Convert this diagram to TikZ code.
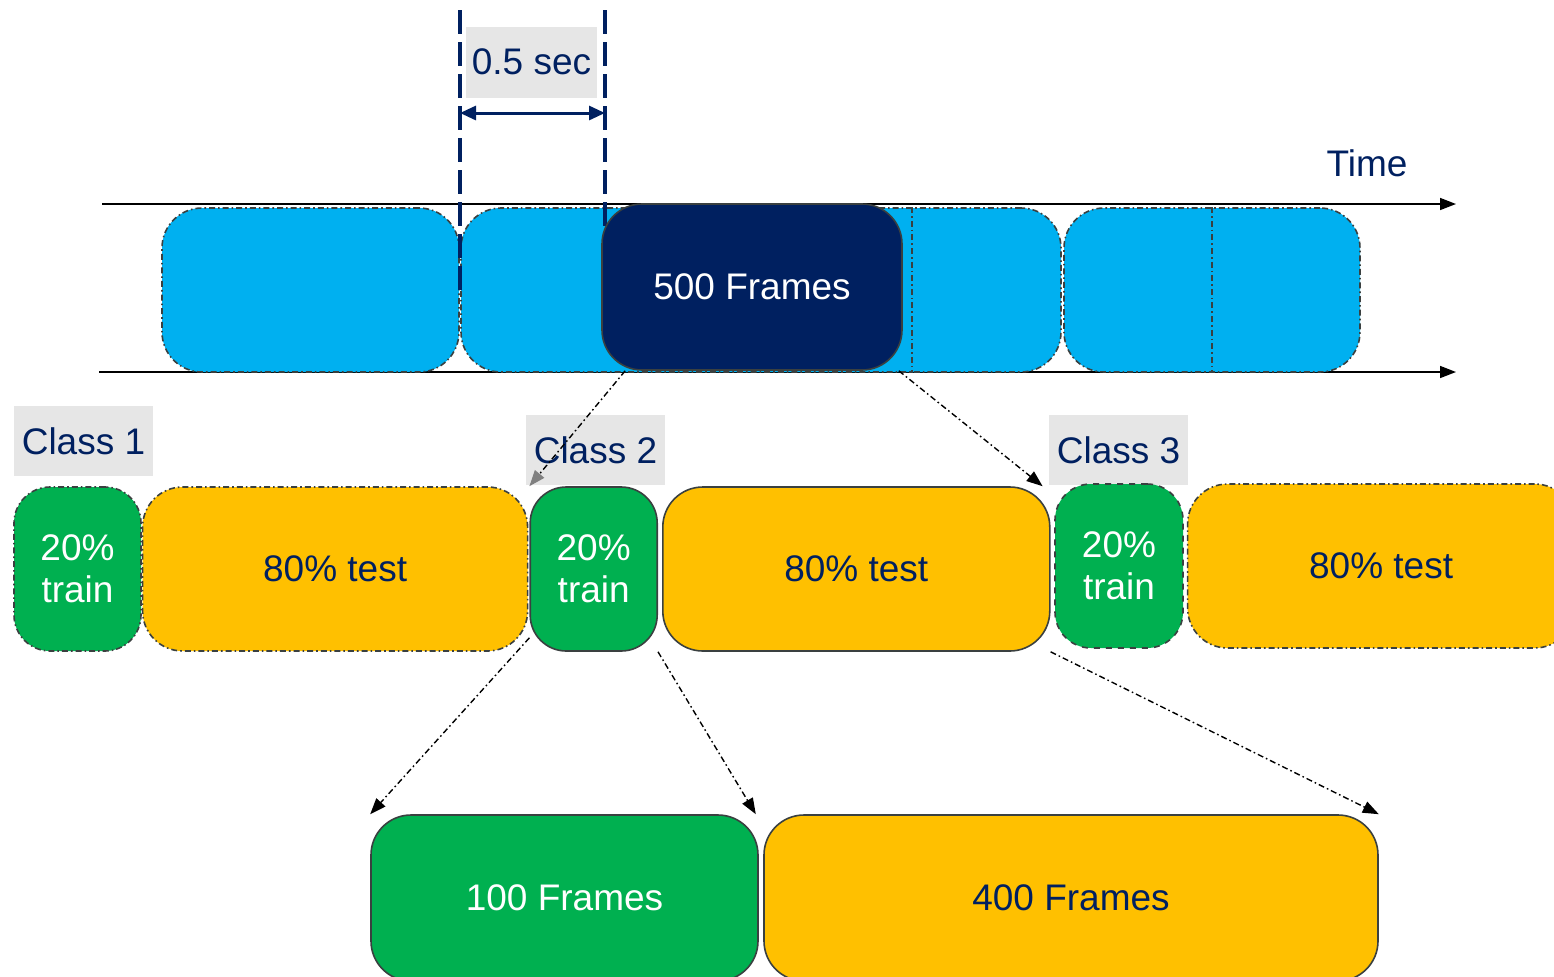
\documentclass[tikz,border=0pt]{standalone}
\usepackage{fontspec}
\setmainfont{Liberation Sans}
\usetikzlibrary{arrows.meta, positioning}
\definecolor{skyblue}{HTML}{00B0F0}
\definecolor{navy}{HTML}{002060}
\definecolor{trgreen}{HTML}{00B050}
\definecolor{tsyellow}{HTML}{FFC000}
\definecolor{tagbg}{HTML}{E6E6E6}
\definecolor{edge}{HTML}{3A4040}
\begin{document}
\begin{tikzpicture}[x=0.5pt, y=-0.5pt, font=\fontsize{18.5}{21}\selectfont,
  dd/.style={dash pattern=on 3pt off 1.5pt on 0.8pt off 1.5pt},
  blk/.style={rounded corners=20pt, minimum height=82pt, inner sep=0pt, align=center, line width=0.8pt, draw=edge},
  seg/.style={blk, fill=skyblue, dd},
  tr/.style={blk, fill=trgreen, text=white, minimum width=63.5pt, rounded corners=18pt},
  ts/.style={blk, fill=tsyellow, text=navy, minimum width=193.5pt},
  tag/.style={fill=tagbg, text=navy, inner sep=0pt, minimum width=69.5pt, minimum height=35pt},
  tick/.style={navy, line width=2pt, dash pattern=on 12pt off 4pt},
  lnk/.style={dd, line width=0.7pt, -{Triangle[length=8pt, width=6pt]}},
  node distance=1pt]
  \useasboundingbox (0,0) rectangle (1554,976);
  % time axis
  \coordinate (ta1) at (102,204); \coordinate (ta2) at (1456,204);
  \coordinate (tb1) at (99,372);  \coordinate (tb2) at (1456,372);
  \draw[line width=0.8pt, -{Triangle[length=8pt, width=6pt]}] (ta1) -- (ta2);
  \draw[line width=0.8pt, -{Triangle[length=8pt, width=6pt]}] (tb1) -- (tb2);
  \node[text=navy] (time) at (1367,163) {Time};
  % segments
  \node[seg, minimum width=148.5pt] (bA) at (310.5,290) {};
  \node[seg, minimum width=300pt] (bB) at (761,290) {};
  \node[seg, minimum width=148pt] (bC) at (1212,290) {};
  \draw[dd, line width=0.8pt, edge] ([xshift=226pt]bB.north west) -- ([xshift=226pt]bB.south west);
  \draw[dd, line width=0.8pt, edge] (bC.north) -- (bC.south);
  % window
  \coordinate (wl1) at (460,10); \coordinate (wl2) at (460,290);
  \coordinate (wr1) at (605,10); \coordinate (wr2) at (605,290);
  \draw[tick] (wl1) -- (wl2);
  \draw[tick] (wr1) -- (wr2);
  \node[tag, minimum width=65.5pt, minimum height=35.5pt] (win) at (531.5,62) {0.5 sec};
  \coordinate (wa1) at (460,113); \coordinate (wa2) at (605,113);
  \draw[navy, line width=1.5pt, {Triangle[length=8pt, width=7pt]}-{Triangle[length=8pt, width=7pt]}] (wa1) -- (wa2);
  \node[blk, fill=navy, text=white, minimum width=150pt, minimum height=83pt] (f500) at (752,287) {500 Frames};
  % classes
  \node[tag] (cl1) at (83.5,441) {Class 1};
  \node[tag] (cl2) at (595.5,450) {Class 2};
  \node[tag] (cl3) at (1118.5,450) {Class 3};
  \node[tr, dd] (c1train) at (77.5,569) {20\%\\train};
  \node[ts, dd, minimum width=192.5pt, right=0pt of c1train] (c1test) {80\% test};
  \node[tr, right=0.5pt of c1test] (c2train) {20\%\\train};
  \node[ts, right=2pt of c2train] (c2test) {80\% test};
  \node[tr, dashed, minimum width=64pt] (c3train) at (1119,566) {20\%\\train};
  \node[ts, dd, right=1.5pt of c3train] (c3test) {80\% test};
  % split of class 2
  \node[blk, fill=trgreen, text=white, minimum width=193.5pt, minimum height=83pt] (f100) at (564.5,898) {100 Frames};
  \node[blk, fill=tsyellow, text=navy, minimum width=307pt, minimum height=83pt] (f400) at (1071,898) {400 Frames};
  % links
  \draw[lnk, -{Triangle[length=8pt, width=6pt, gray]}] ([xshift=12pt]f500.south west) -- (c2train.north west);
  \draw[lnk] ([xshift=-2pt]f500.south east) -- ([xshift=-4pt]c2test.north east);
  \draw[lnk] ([yshift=7pt]c2train.south west) -- (f100.north west);
  \draw[lnk] (c2train.south east) -- ([xshift=-1.5pt]f100.north east);
  \draw[lnk] (c2test.south east) -- (f400.north east);
\end{tikzpicture}
\end{document}
